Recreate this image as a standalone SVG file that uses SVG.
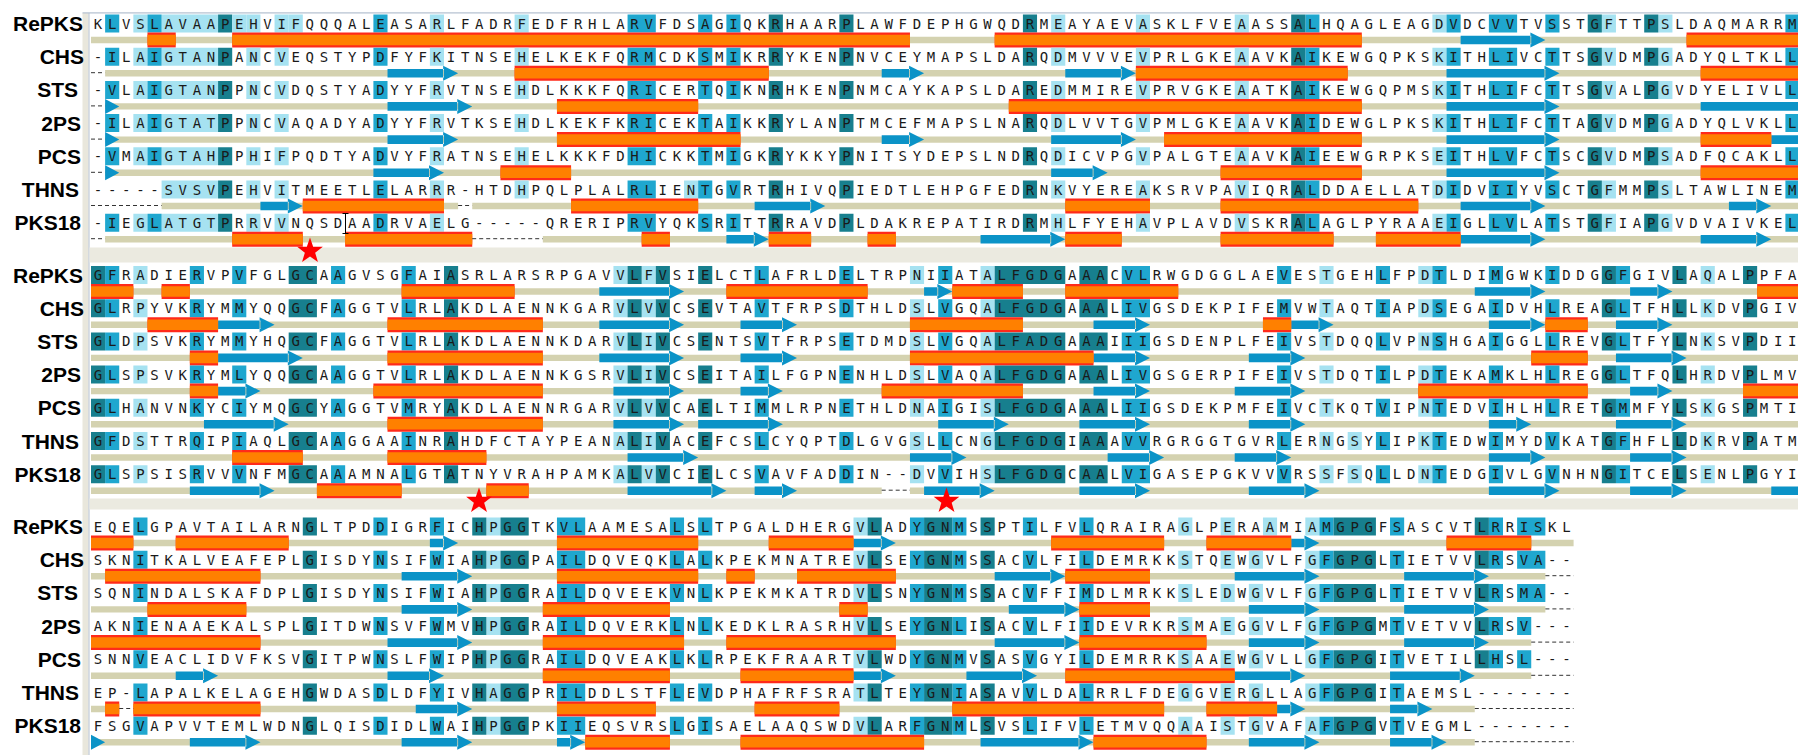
<svg xmlns="http://www.w3.org/2000/svg" width="1798" height="755" viewBox="0 0 1798 755">
<style>
.l{fill:#a6e2f1}.m{fill:#1fa7cf}.d{fill:#177f8e}
.t{fill:#d4d2b0}.e{fill:#0b93c7}
.seq{font-family:"DejaVu Sans Mono",monospace;font-size:14px;letter-spacing:5.69px;fill:#1a1a1a}
.lab{font-family:"Liberation Sans",Arial,sans-serif;font-weight:bold;font-size:21px;text-anchor:end;fill:#000}
.gap{stroke:#333;stroke-width:1;stroke-dasharray:4 3;fill:none}
.star{fill:#ff0000}
</style>
<defs>
<path id="b1m" d="M1-9h1v18h-1zM4-9h1v18h-1zM20-9h1v18h-1zM38-9h2v18h-2zM43-9h1v18h-1zM45-9h1v18h-1zM86-9h1v18h-1zM96-9h1v18h-1zM99-9h2v18h-2zM103-9h1v18h-1zM120-9h1v18h-1z"/>
<path id="b1l" d="M3-9h1v18h-1zM5-9h4v18h-4zM11-9h1v18h-1zM13-9h1v18h-1zM24-9h1v18h-1zM30-9h1v18h-1zM68-9h1v18h-1zM74-9h1v18h-1zM81-9h1v18h-1zM95-9h1v18h-1zM107-9h1v18h-1zM111-9h1v18h-1z"/>
<path id="b1d" d="M9-9h1v18h-1zM48-9h1v18h-1zM53-9h1v18h-1zM66-9h1v18h-1zM85-9h1v18h-1zM106-9h1v18h-1zM110-9h1v18h-1z"/>
<path id="b2d" d="M0-9h1v18h-1zM14-9h2v18h-2zM25-9h1v18h-1zM38-9h1v18h-1zM40-9h1v18h-1zM43-9h1v18h-1zM64-9h5v18h-5zM70-9h2v18h-2zM107-9h1v18h-1zM112-9h1v18h-1zM117-9h1v18h-1z"/>
<path id="b2m" d="M1-9h1v18h-1zM7-9h1v18h-1zM10-9h1v18h-1zM17-9h1v18h-1zM22-9h1v18h-1zM47-9h1v18h-1zM53-9h1v18h-1zM60-9h1v18h-1zM73-9h2v18h-2zM84-9h1v18h-1zM91-9h1v18h-1zM95-9h1v18h-1zM99-9h1v18h-1zM103-9h1v18h-1zM108-9h1v18h-1z"/>
<path id="b2l" d="M3-9h1v18h-1zM37-9h1v18h-1zM39-9h1v18h-1zM58-9h1v18h-1zM63-9h1v18h-1zM87-9h1v18h-1zM94-9h1v18h-1zM114-9h1v18h-1z"/>
<path id="b3d" d="M15-9h1v18h-1zM27-9h1v18h-1zM29-9h2v18h-2zM55-9h1v18h-1zM59-9h2v18h-2zM63-9h1v18h-1zM88-9h3v18h-3z"/>
<path id="b3m" d="M3-9h1v18h-1zM20-9h1v18h-1zM24-9h1v18h-1zM33-9h2v18h-2zM41-9h1v18h-1zM43-9h1v18h-1zM58-9h1v18h-1zM61-9h1v18h-1zM66-9h1v18h-1zM70-9h1v18h-1zM87-9h1v18h-1zM92-9h1v18h-1z"/>
<path id="b3l" d="M28-9h1v18h-1zM54-9h1v18h-1zM77-9h1v18h-1zM80-9h1v18h-1zM86-9h1v18h-1z"/>
<polygon id="star" points="0,-13.5 3.17,-4.37 12.84,-4.17 5.14,1.67 7.94,10.92 0,5.4 -7.94,10.92 -5.14,1.67 -12.84,-4.17 -3.17,-4.37"/>
</defs>

<g id="background">
<rect x="0" y="0" width="1798" height="755" fill="#ffffff"/>
<rect x="82.5" y="13" width="6" height="742" fill="#e9e7dc"/>
<rect x="88.5" y="13" width="1" height="742" fill="#b3bfcf"/>
<rect x="82.5" y="12.3" width="1716" height="1.2" fill="#b3bfcf"/>
<rect x="89.5" y="247.5" width="1709" height="15" fill="#ebeae0"/>
<rect x="89.5" y="498.5" width="1709" height="11" fill="#ebeae0"/>
</g>

<g id="block1" transform="translate(91 0) scale(14.12 1)">
<g id="b1-RePKS" transform="translate(0 23.5)">
<use href="#b1l" class="l"/><use href="#b1m" class="m"/><use href="#b1d" class="d"/>
<path class="l" d="M10-9h1v18h-1zM14-9h1v18h-1z"/>
<path class="t" d="M0 13.3h121v6.4h-121z"/>
<path class="e" d="M97 12.2H102v8.6H97zM103 16.5l-1.06-7.5v15z"/>
<g fill="#ff2a1a"><path id="h1a" d="M4 9h2v15h-2zM10 9h48v15h-48zM64 9h26v15h-26zM113 9h9v15h-9z"/></g>
<use href="#h1a" fill="#ff8000" transform="matrix(1 0 0 .7 0 4.95)"/>
</g>
<g id="b1-CHS" transform="translate(0 56.7)">
<use href="#b1l" class="l"/><use href="#b1m" class="m"/><use href="#b1d" class="d"/>
<path class="t" d="M1 13.3h120v6.4h-120z"/>
<path class="e" d="M21 12.2H25v8.6H21zM26 16.5l-1.06-7.5v15zM56 12.2H58v8.6H56zM59 16.5l-1.06-7.5v15zM69 12.2H73v8.6H69zM74 16.5l-1.06-7.5v15zM96 12.2H103v8.6H96zM104 16.5l-1.06-7.5v15z"/>
<g fill="#ff2a1a"><path id="h1b" d="M30 9h18v15h-18zM74 9h15v15h-15zM114 9h8v15h-8z"/></g>
<use href="#h1b" fill="#ff8000" transform="matrix(1 0 0 .7 0 4.95)"/>
</g>
<g id="b1-STS" transform="translate(0 89.9)">
<use href="#b1l" class="l"/><use href="#b1m" class="m"/><use href="#b1d" class="d"/>
<path class="t" d="M1 13.3h120v6.4h-120z"/>
<path class="e" d="M1 9l1 7.5-1 7.5zM21 12.2H26v8.6H21zM27 16.5l-1.06-7.5v15zM96 12.2H103v8.6H96zM104 16.5l-1.06-7.5v15zM114 12.2H122v8.6H114z"/>
<g fill="#ff2a1a"><path id="h1c" d="M33 9h10v15h-10zM65 9h25v15h-25z"/></g>
<use href="#h1c" fill="#ff8000" transform="matrix(1 0 0 .7 0 4.95)"/>
</g>
<g id="b1-2PS" transform="translate(0 123.1)">
<use href="#b1l" class="l"/><use href="#b1m" class="m"/><use href="#b1d" class="d"/>
<path class="t" d="M1 13.3h120v6.4h-120z"/>
<path class="e" d="M1 9l1 7.5-1 7.5zM21 12.2H25v8.6H21zM26 16.5l-1.06-7.5v15zM56 12.2H58v8.6H56zM59 16.5l-1.06-7.5v15zM68 12.2H73v8.6H68zM74 16.5l-1.06-7.5v15zM96 12.2H103v8.6H96zM104 16.5l-1.06-7.5v15zM119 12.2H122v8.6H119z"/>
<g fill="#ff2a1a"><path id="h1d" d="M33 9h13v15h-13zM76 9h14v15h-14zM114 9h5v15h-5z"/></g>
<use href="#h1d" fill="#ff8000" transform="matrix(1 0 0 .7 0 4.95)"/>
</g>
<g id="b1-PCS" transform="translate(0 156.3)">
<use href="#b1l" class="l"/><use href="#b1m" class="m"/><use href="#b1d" class="d"/>
<path class="t" d="M1 13.3h120v6.4h-120z"/>
<path class="e" d="M1 9l1 7.5-1 7.5zM20 12.2H24v8.6H20zM25 16.5l-1.06-7.5v15zM68 12.2H71v8.6H68zM72 16.5l-1.06-7.5v15zM96 12.2H103v8.6H96zM104 16.5l-1.06-7.5v15z"/>
<g fill="#ff2a1a"><path id="h1e" d="M29 9h5v15h-5zM80 9h10v15h-10zM114 9h8v15h-8z"/></g>
<use href="#h1e" fill="#ff8000" transform="matrix(1 0 0 .7 0 4.95)"/>
</g>
<g id="b1-THNS" transform="translate(0 189.5)">
<path class="l" d="M5-9h4v18h-4zM11-9h1v18h-1zM13-9h1v18h-1zM24-9h1v18h-1zM30-9h1v18h-1zM42-9h1v18h-1zM68-9h1v18h-1zM74-9h1v18h-1zM81-9h1v18h-1zM95-9h1v18h-1zM107-9h1v18h-1zM111-9h1v18h-1z"/>
<path class="m" d="M20-9h1v18h-1zM38-9h2v18h-2zM43-9h1v18h-1zM45-9h1v18h-1zM86-9h1v18h-1zM96-9h1v18h-1zM99-9h2v18h-2zM103-9h1v18h-1zM120-9h1v18h-1z"/>
<use href="#b1d" class="d"/>
<path class="t" d="M5 13.3h21v6.4h-21zM27 13.3h94v6.4h-94z"/>
<path class="e" d="M12 12.2H14v8.6H12zM15 16.5l-1.06-7.5v15zM47 12.2H51v8.6H47zM52 16.5l-1.06-7.5v15zM97 12.2H102v8.6H97zM103 16.5l-1.06-7.5v15zM116 12.2H118v8.6H116zM119 16.5l-1.06-7.5v15z"/>
<g fill="#ff2a1a"><path id="h1f" d="M15 9h10v15h-10zM34 9h9v15h-9zM69 9h6v15h-6zM80 9h14v15h-14z"/></g>
<use href="#h1f" fill="#ff8000" transform="matrix(1 0 0 .7 0 4.95)"/>
</g>
<g id="b1-PKS18" transform="translate(0 222.7)">
<path class="l" d="M3-9h1v18h-1zM5-9h4v18h-4zM11-9h1v18h-1zM13-9h1v18h-1zM24-9h1v18h-1zM68-9h1v18h-1zM74-9h1v18h-1zM81-9h1v18h-1zM95-9h1v18h-1zM107-9h1v18h-1zM111-9h1v18h-1z"/>
<use href="#b1m" class="m"/><use href="#b1d" class="d"/>
<path class="t" d="M1 13.3h26v6.4h-26zM32 13.3h89v6.4h-89z"/>
<path class="e" d="M45 12.2H47v8.6H45zM48 16.5l-1.06-7.5v15zM63 12.2H68v8.6H63zM69 16.5l-1.06-7.5v15zM97 12.2H102v8.6H97zM103 16.5l-1.06-7.5v15zM114 12.2H118v8.6H114zM119 16.5l-1.06-7.5v15z"/>
<g fill="#ff2a1a"><path id="h1g" d="M10 9h5v15h-5zM18 9h9v15h-9zM39 9h2v15h-2zM48 9h3v15h-3zM55 9h2v15h-2zM69 9h4v15h-4zM80 9h8v15h-8zM91 9h6v15h-6z"/></g>
<use href="#h1g" fill="#ff8000" transform="matrix(1 0 0 .7 0 4.95)"/>
</g>
</g>

<g id="block2" transform="translate(91 0) scale(14.12 1)">
<g id="b2-RePKS" transform="translate(0 275)">
<use href="#b2l" class="l"/><use href="#b2m" class="m"/><use href="#b2d" class="d"/>
<path class="t" d="M0 13.3h121v6.4h-121z"/>
<path class="e" d="M36 12.2H41v8.6H36zM42 16.5l-1.06-7.5v15zM59 12.2H60v8.6H59zM61 16.5l-1.06-7.5v15zM98 12.2H102v8.6H98zM103 16.5l-1.06-7.5v15zM109 12.2H111v8.6H109zM112 16.5l-1.06-7.5v15z"/>
<g fill="#ff2a1a"><path id="h2a" d="M0 9h3v15h-3zM5 9h2v15h-2zM22 9h8v15h-8zM45 9h10v15h-10zM61 9h5v15h-5zM69 9h8v15h-8zM118 9h4v15h-4z"/></g>
<use href="#h2a" fill="#ff8000" transform="matrix(1 0 0 .7 0 4.95)"/>
</g>
<g id="b2-CHS" transform="translate(0 308.2)">
<use href="#b2l" class="l"/><use href="#b2m" class="m"/><use href="#b2d" class="d"/>
<path class="t" d="M0 13.3h121v6.4h-121z"/>
<path class="e" d="M9 12.2H12v8.6H9zM13 16.5l-1.06-7.5v15zM36 12.2H41v8.6H36zM42 16.5l-1.06-7.5v15zM46 12.2H49v8.6H46zM50 16.5l-1.06-7.5v15zM71 12.2H74v8.6H71zM75 16.5l-1.06-7.5v15zM85 12.2H87v8.6H85zM88 16.5l-1.06-7.5v15zM99 12.2H102v8.6H99zM103 16.5l-1.06-7.5v15zM108 12.2H111v8.6H108zM112 16.5l-1.06-7.5v15z"/>
<g fill="#ff2a1a"><path id="h2b" d="M4 9h5v15h-5zM21 9h11v15h-11zM58 9h8v15h-8zM83 9h2v15h-2zM103 9h3v15h-3z"/></g>
<use href="#h2b" fill="#ff8000" transform="matrix(1 0 0 .7 0 4.95)"/>
</g>
<g id="b2-STS" transform="translate(0 341.4)">
<use href="#b2l" class="l"/><use href="#b2m" class="m"/><use href="#b2d" class="d"/>
<path class="t" d="M0 13.3h121v6.4h-121z"/>
<path class="e" d="M9 12.2H14v8.6H9zM15 16.5l-1.06-7.5v15zM36 12.2H41v8.6H36zM42 16.5l-1.06-7.5v15zM46 12.2H49v8.6H46zM50 16.5l-1.06-7.5v15zM71 12.2H74v8.6H71zM75 16.5l-1.06-7.5v15zM82 12.2H85v8.6H82zM86 16.5l-1.06-7.5v15zM108 12.2H112v8.6H108zM113 16.5l-1.06-7.5v15z"/>
<g fill="#ff2a1a"><path id="h2c" d="M7 9h2v15h-2zM21 9h11v15h-11zM58 9h13v15h-13zM102 9h4v15h-4z"/></g>
<use href="#h2c" fill="#ff8000" transform="matrix(1 0 0 .7 0 4.95)"/>
</g>
<g id="b2-2PS" transform="translate(0 374.6)">
<use href="#b2l" class="l"/><use href="#b2m" class="m"/><use href="#b2d" class="d"/>
<path class="t" d="M0 13.3h121v6.4h-121z"/>
<path class="e" d="M9 12.2H11v8.6H9zM12 16.5l-1.06-7.5v15zM37 12.2H41v8.6H37zM42 16.5l-1.06-7.5v15zM46 12.2H48v8.6H46zM49 16.5l-1.06-7.5v15zM71 12.2H74v8.6H71zM75 16.5l-1.06-7.5v15zM81 12.2H85v8.6H81zM86 16.5l-1.06-7.5v15zM109 12.2H111v8.6H109zM112 16.5l-1.06-7.5v15z"/>
<g fill="#ff2a1a"><path id="h2d" d="M7 9h2v15h-2zM20 9h12v15h-12zM56 9h10v15h-10zM94 9h12v15h-12zM117 9h5v15h-5z"/></g>
<use href="#h2d" fill="#ff8000" transform="matrix(1 0 0 .7 0 4.95)"/>
</g>
<g id="b2-PCS" transform="translate(0 407.8)">
<use href="#b2l" class="l"/><use href="#b2m" class="m"/><use href="#b2d" class="d"/>
<path class="t" d="M0 13.3h121v6.4h-121z"/>
<path class="e" d="M8 12.2H13v8.6H8zM14 16.5l-1.06-7.5v15zM37 12.2H41v8.6H37zM42 16.5l-1.06-7.5v15zM43 12.2H48v8.6H43zM49 16.5l-1.06-7.5v15zM60 12.2H64v8.6H60zM65 16.5l-1.06-7.5v15zM70 12.2H74v8.6H70zM75 16.5l-1.06-7.5v15zM82 12.2H85v8.6H82zM86 16.5l-1.06-7.5v15zM99 12.2H101v8.6H99zM102 16.5l-1.06-7.5v15zM108 12.2H112v8.6H108zM113 16.5l-1.06-7.5v15z"/>
<g fill="#ff2a1a"><path id="h2e" d="M21 9h11v15h-11z"/></g>
<use href="#h2e" fill="#ff8000" transform="matrix(1 0 0 .7 0 4.95)"/>
</g>
<g id="b2-THNS" transform="translate(0 441)">
<use href="#b2l" class="l"/><use href="#b2m" class="m"/><use href="#b2d" class="d"/>
<path class="l" d="M89-9h1v18h-1z"/>
<path class="t" d="M0 13.3h121v6.4h-121z"/>
<path class="e" d="M38 12.2H42v8.6H38zM43 16.5l-1.06-7.5v15zM58 12.2H61v8.6H58zM62 16.5l-1.06-7.5v15zM72 12.2H75v8.6H72zM76 16.5l-1.06-7.5v15zM81 12.2H84v8.6H81zM85 16.5l-1.06-7.5v15zM99 12.2H102v8.6H99zM103 16.5l-1.06-7.5v15zM109 12.2H112v8.6H109zM113 16.5l-1.06-7.5v15z"/>
<g fill="#ff2a1a"><path id="h2f" d="M10 9h5v15h-5zM21 9h7v15h-7z"/></g>
<use href="#h2f" fill="#ff8000" transform="matrix(1 0 0 .7 0 4.95)"/>
</g>
<g id="b2-PKS18" transform="translate(0 474.2)">
<use href="#b2l" class="l"/><use href="#b2m" class="m"/><use href="#b2d" class="d"/>
<path class="l" d="M89-9h1v18h-1z"/>
<path class="t" d="M0 13.3h56v6.4h-56zM58 13.3h63v6.4h-63z"/>
<path class="e" d="M7 12.2H12v8.6H7zM13 16.5l-1.06-7.5v15zM38 12.2H44v8.6H38zM45 16.5l-1.06-7.5v15zM47 12.2H49v8.6H47zM50 16.5l-1.06-7.5v15zM59 12.2H63v8.6H59zM64 16.5l-1.06-7.5v15zM70 12.2H74v8.6H70zM75 16.5l-1.06-7.5v15zM82 12.2H86v8.6H82zM87 16.5l-1.06-7.5v15zM99 12.2H103v8.6H99zM104 16.5l-1.06-7.5v15zM109 12.2H112v8.6H109zM113 16.5l-1.06-7.5v15zM119 12.2H122v8.6H119z"/>
<g fill="#ff2a1a"><path id="h2g" d="M16 9h6v15h-6zM28 9h3v15h-3z"/></g>
<use href="#h2g" fill="#ff8000" transform="matrix(1 0 0 .7 0 4.95)"/>
</g>
</g>

<g id="block3" transform="translate(91 0) scale(14.12 1)">
<g id="b3-RePKS" transform="translate(0 526.5)">
<use href="#b3l" class="l"/><use href="#b3m" class="m"/><use href="#b3d" class="d"/>
<path class="l" d="M83-9h1v18h-1z"/>
<path class="m" d="M99-9h1v18h-1zM101-9h2v18h-2z"/>
<path class="d" d="M98-9h1v18h-1z"/>
<path class="t" d="M0 13.3h105v6.4h-105z"/>
<path class="e" d="M24 12.2H25v8.6H24zM26 16.5l-1.06-7.5v15zM54 12.2H56v8.6H54zM57 16.5l-1.06-7.5v15zM85 12.2H86v8.6H85zM87 16.5l-1.06-7.5v15z"/>
<g fill="#ff2a1a"><path id="h3a" d="M0 9h3v15h-3zM6 9h8v15h-8zM33 9h10v15h-10zM48 9h6v15h-6zM68 9h8v15h-8zM79 9h6v15h-6zM96 9h6v15h-6z"/></g>
<use href="#h3a" fill="#ff8000" transform="matrix(1 0 0 .7 0 4.95)"/>
</g>
<g id="b3-CHS" transform="translate(0 559.7)">
<use href="#b3l" class="l"/><use href="#b3m" class="m"/><use href="#b3d" class="d"/>
<path class="l" d="M82-9h1v18h-1z"/>
<path class="m" d="M99-9h1v18h-1zM101-9h2v18h-2z"/>
<path class="d" d="M98-9h1v18h-1z"/>
<path class="t" d="M0 13.3h103v6.4h-103z"/>
<path class="e" d="M22 12.2H26v8.6H22zM27 16.5l-1.06-7.5v15zM64 12.2H68v8.6H64zM69 16.5l-1.06-7.5v15zM81 12.2H86v8.6H81zM87 16.5l-1.06-7.5v15zM93 12.2H98v8.6H93zM99 16.5l-1.06-7.5v15z"/>
<g fill="#ff2a1a"><path id="h3b" d="M1 9h11v15h-11zM33 9h10v15h-10zM45 9h2v15h-2zM50 9h7v15h-7zM69 9h6v15h-6z"/></g>
<use href="#h3b" fill="#ff8000" transform="matrix(1 0 0 .7 0 4.95)"/>
</g>
<g id="b3-STS" transform="translate(0 592.9)">
<use href="#b3l" class="l"/><use href="#b3m" class="m"/><use href="#b3d" class="d"/>
<path class="l" d="M82-9h1v18h-1z"/>
<path class="m" d="M99-9h1v18h-1zM101-9h2v18h-2z"/>
<path class="d" d="M98-9h1v18h-1z"/>
<path class="t" d="M0 13.3h103v6.4h-103z"/>
<path class="e" d="M22 12.2H26v8.6H22zM27 16.5l-1.06-7.5v15zM65 12.2H69v8.6H65zM70 16.5l-1.06-7.5v15zM82 12.2H86v8.6H82zM87 16.5l-1.06-7.5v15zM93 12.2H98v8.6H93zM99 16.5l-1.06-7.5v15z"/>
<g fill="#ff2a1a"><path id="h3c" d="M4 9h7v15h-7zM32 9h9v15h-9zM53 9h2v15h-2zM70 9h5v15h-5z"/></g>
<use href="#h3c" fill="#ff8000" transform="matrix(1 0 0 .7 0 4.95)"/>
</g>
<g id="b3-2PS" transform="translate(0 626.1)">
<use href="#b3l" class="l"/><use href="#b3m" class="m"/><use href="#b3d" class="d"/>
<path class="l" d="M82-9h1v18h-1z"/>
<path class="m" d="M99-9h1v18h-1zM101-9h1v18h-1z"/>
<path class="d" d="M98-9h1v18h-1z"/>
<path class="t" d="M0 13.3h102v6.4h-102z"/>
<path class="e" d="M21 12.2H26v8.6H21zM27 16.5l-1.06-7.5v15zM64 12.2H69v8.6H64zM70 16.5l-1.06-7.5v15zM82 12.2H86v8.6H82zM87 16.5l-1.06-7.5v15zM93 12.2H98v8.6H93zM99 16.5l-1.06-7.5v15z"/>
<g fill="#ff2a1a"><path id="h3d" d="M0 9h12v15h-12zM32 9h10v15h-10zM45 9h12v15h-12zM70 9h9v15h-9z"/></g>
<use href="#h3d" fill="#ff8000" transform="matrix(1 0 0 .7 0 4.95)"/>
</g>
<g id="b3-PCS" transform="translate(0 659.3)">
<use href="#b3l" class="l"/><use href="#b3m" class="m"/><use href="#b3d" class="d"/>
<path class="l" d="M82-9h1v18h-1z"/>
<path class="m" d="M99-9h1v18h-1zM101-9h1v18h-1z"/>
<path class="d" d="M98-9h1v18h-1z"/>
<path class="t" d="M0 13.3h102v6.4h-102z"/>
<path class="e" d="M6 12.2H8v8.6H6zM9 16.5l-1.06-7.5v15zM21 12.2H24v8.6H21zM25 16.5l-1.06-7.5v15zM54 12.2H56v8.6H54zM57 16.5l-1.06-7.5v15zM62 12.2H66v8.6H62zM67 16.5l-1.06-7.5v15zM81 12.2H85v8.6H81zM86 16.5l-1.06-7.5v15zM92 12.2H97v8.6H92zM98 16.5l-1.06-7.5v15z"/>
<g fill="#ff2a1a"><path id="h3e" d="M32 9h9v15h-9zM46 9h8v15h-8zM69 9h12v15h-12z"/></g>
<use href="#h3e" fill="#ff8000" transform="matrix(1 0 0 .7 0 4.95)"/>
</g>
<g id="b3-THNS" transform="translate(0 692.5)">
<use href="#b3l" class="l"/><use href="#b3m" class="m"/><use href="#b3d" class="d"/>
<path class="l" d="M82-9h1v18h-1z"/>
<path class="t" d="M0 13.3h2v6.4h-2zM3 13.3h95v6.4h-95z"/>
<path class="e" d="M23 12.2H26v8.6H23zM27 16.5l-1.06-7.5v15zM84 12.2H85v8.6H84zM86 16.5l-1.06-7.5v15zM92 12.2H94v8.6H92zM95 16.5l-1.06-7.5v15z"/>
<g fill="#ff2a1a"><path id="h3f" d="M1 9h1v15h-1zM3 9h9v15h-9zM33 9h7v15h-7zM47 9h6v15h-6zM61 9h15v15h-15zM79 9h5v15h-5z"/></g>
<use href="#h3f" fill="#ff8000" transform="matrix(1 0 0 .7 0 4.95)"/>
</g>
<g id="b3-PKS18" transform="translate(0 725.7)">
<use href="#b3l" class="l"/><use href="#b3m" class="m"/><use href="#b3d" class="d"/>
<path class="l" d="M82-9h1v18h-1z"/>
<path class="t" d="M0 13.3h98v6.4h-98z"/>
<path class="e" d="M0 9l1 7.5-1 7.5zM7 12.2H11v8.6H7zM12 16.5l-1.06-7.5v15zM22 12.2H26v8.6H22zM27 16.5l-1.06-7.5v15zM33 12.2H34v8.6H33zM35 16.5l-1.06-7.5v15zM63 12.2H70v8.6H63zM71 16.5l-1.06-7.5v15zM82 12.2H86v8.6H82zM87 16.5l-1.06-7.5v15zM92 12.2H95v8.6H92zM96 16.5l-1.06-7.5v15z"/>
<g fill="#ff2a1a"><path id="h3g" d="M35 9h6v15h-6zM46 9h13v15h-13zM71 9h8v15h-8z"/></g>
<use href="#h3g" fill="#ff8000" transform="matrix(1 0 0 .7 0 4.95)"/>
</g>
</g>

<g id="gaps">
<path class="gap" d="M91 72.7H105.1M91 105.9H105.1M91 139.1H105.1M91 172.3H105.1M91 205.5H161.6M458.1 205.5H472.2M91 238.7H105.1M472.2 238.7H542.8M881.7 490.2H910M1545.4 575.7H1573.6M1545.4 608.9H1573.6M1531.2 642.1H1573.6M1531.2 675.3H1573.6M119.2 708.5H133.4M1474.8 708.5H1573.6M1474.8 741.7H1573.6"/>
</g>

<g id="sequences">
<text class="seq" x="93.85" y="28.5">KLVSLAVAAPEHVIFQQQALEASARLFADRFEDFRHLARVFDSAGIQKRHAARPLAWFDEPHGWQDRMEAYAEVASKLFVEAASSALHQAGLEAGDVDCVVTVSSTGFTTPSLDAQMARRM</text>
<text class="seq" x="93.85" y="61.7">-ILAIGTANPANCVEQSTYPDFYFKITNSEHELKEKFQRMCDKSMIKRRYKENPNVCEYMAPSLDARQDMVVVEVPRLGKEAAVKAIKEWGQPKSKITHLIVCTTSGVDMPGADYQLTKLL</text>
<text class="seq" x="93.85" y="94.9">-VLAIGTANPPNCVDQSTYADYYFRVTNSEHDLKKKFQRICERTQIKNRHKENPNMCAYKAPSLDAREDMMIREVPRVGKEAATKAIKEWGQPMSKITHLIFCTTSGVALPGVDYELIVLL</text>
<text class="seq" x="93.85" y="128.1">-ILAIGTATPPNCVAQADYADYYFRVTKSEHDLKEKFKRICEKTAIKKRYLANPTMCEFMAPSLNARQDLVVTGVPMLGKEAAVKAIDEWGLPKSKITHLIFCTTAGVDMPGADYQLVKLL</text>
<text class="seq" x="93.85" y="161.3">-VMAIGTAHPPHIFPQDTYADVYFRATNSEHELKKKFDHICKKTMIGKRYKKYPNITSYDEPSLNDRQDICVPGVPALGTEAAVKAIEEWGRPKSEITHLVFCTSCGVDMPSADFQCAKLL</text>
<text class="seq" x="93.85" y="194.5">-----SVSVPEHVITMEETLELARRR-HTDHPQLPLALRLIENTGVRTRHIVQPIEDTLEHPGFEDRNKVYEREAKSRVPAVIQRALDDAELLATDIDVIIYVSCTGFMMPSLTAWLINEM</text>
<text class="seq" x="93.85" y="227.7">-IEGLATGTPRRVVNQSDAADRVAELG-----QRERIPRVYQKSRITTRRAVDPLDAKREPATIRDRMHLFYEHAVPLAVDVSKRALAGLPYRAAEIGLLVLATSTGFIAPGVDVAIVKEL</text>
<text class="seq" x="93.85" y="280">GFRADIERVPVFGLGCAAGVSGFAIASRLARSRPGAVVLFVSIELCTLAFRLDELTRPNIIATALFGDGAAACVLRWGDGGLAEVESTGEHLFPDTLDIMGWKIDDGGFGIVLAQALPPFA</text>
<text class="seq" x="93.85" y="313.2">GLRPYVKRYMMYQQGCFAGGTVLRLAKDLAENNKGARVLVVCSEVTAVTFRPSDTHLDSLVGQALFGDGAAALIVGSDEKPIFEMVWTAQTIAPDSEGAIDVHLREAGLTFHLLKDVPGIV</text>
<text class="seq" x="93.85" y="346.4">GLDPSVKRYMMYHQGCFAGGTVLRLAKDLAENNKDARVLIVCSENTSVTFRPSETDMDSLVGQALFADGAAAIIIGSDENPLFEIVSTDQQLVPNSHGAIGGLLREVGLTFYLNKSVPDII</text>
<text class="seq" x="93.85" y="379.6">GLSPSVKRYMLYQQGCAAGGTVLRLAKDLAENNKGSRVLIVCSEITAILFGPNENHLDSLVAQALFGDGAAALIVGSGERPIFEIVSTDQTILPDTEKAMKLHLREGGLTFQLHRDVPLMV</text>
<text class="seq" x="93.85" y="412.8">GLHANVNKYCIYMQGCYAGGTVMRYAKDLAENNRGARVLVVCAELTIMMLRPNETHLDNAIGISLFGDGAAALIIGSDEKPMFEIVCTKQTVIPNTEDVIHLHLRETGMMFYLSKGSPMTI</text>
<text class="seq" x="93.85" y="446">GFDSTTRQIPIAQLGCAAGGAAINRAHDFCTAYPEANALIVACEFCSLCYQPTDLGVGSLLCNGLFGDGIAAAVVRGRGGTGVRLERNGSYLIPKTEDWIMYDVKATGFHFLLDKRVPATM</text>
<text class="seq" x="93.85" y="479.2">GLSPSISRVVVNFMGCAAAMNALGTATNYVRAHPAMKALVVCIELCSVAVFADDIN--DVVIHSLFGDGCAALVIGASEPGKVVVRSSFSQLLDNTEDGIVLGVNHNGITCELSENLPGYI</text>
<text class="seq" x="93.85" y="531.5">EQELGPAVTAILARNGLTPDDIGRFICHPGGTKVLAAMESALSLTPGALDHERGVLADYGNMSSPTILFVLQRAIRAGLPERAAMIAMGPGFSASCVTLRRISKL</text>
<text class="seq" x="93.85" y="564.7">SKNITKALVEAFEPLGISDYNSIFWIAHPGGPAILDQVEQKLALKPEKMNATREVLSEYGNMSSACVLFILDEMRKKSTQEWGVLFGFGPGLTIETVVLRSVA--</text>
<text class="seq" x="93.85" y="597.9">SQNINDALSKAFDPLGISDYNSIFWIAHPGGRAILDQVEEKVNLKPEKMKATRDVLSNYGNMSSACVFFIMDLMRKKSLEDWGVLFGFGPGLTIETVVLRSMA--</text>
<text class="seq" x="93.85" y="631.1">AKNIENAAEKALSPLGITDWNSVFWMVHPGGRAILDQVERKLNLKEDKLRASRHVLSEYGNLISACVLFIIDEVRKRSMAEGGVLFGFGPGMTVETVVLRSV---</text>
<text class="seq" x="93.85" y="664.3">SNNVEACLIDVFKSVGITPWNSLFWIPHPGGRAILDQVEAKLKLRPEKFRAARTVLWDYGNMVSASVGYILDEMRRKSAAEWGVLLGFGPGITVETILLHSL---</text>
<text class="seq" x="93.85" y="697.5">EP-LAPALKELAGEHGWDASDLDFYIVHAGGPRILDDLSTFLEVDPHAFRFSRATLTEYGNIASAVVLDALRRLFDEGGVERGLLAGFGPGITAEMSL-------</text>
<text class="seq" x="93.85" y="730.7">FSGVAPVVTEMLWDNGLQISDIDLWAIHPGGPKIIEQSVRSLGISAELAAQSWDVLARFGNMLSVSLIFVLETMVQQAAISTGVAFAFGPGVTVEGML-------</text>
</g>

<g id="labels">
<text class="lab" x="83" y="31">RePKS</text>
<text class="lab" x="84" y="64.2">CHS</text>
<text class="lab" x="78" y="97.4">STS</text>
<text class="lab" x="81" y="130.6">2PS</text>
<text class="lab" x="81" y="163.8">PCS</text>
<text class="lab" x="79" y="197">THNS</text>
<text class="lab" x="81" y="230.2">PKS18</text>
<text class="lab" x="83" y="282.5">RePKS</text>
<text class="lab" x="84" y="315.7">CHS</text>
<text class="lab" x="78" y="348.9">STS</text>
<text class="lab" x="81" y="382.1">2PS</text>
<text class="lab" x="81" y="415.3">PCS</text>
<text class="lab" x="79" y="448.5">THNS</text>
<text class="lab" x="81" y="481.7">PKS18</text>
<text class="lab" x="83" y="534">RePKS</text>
<text class="lab" x="84" y="567.2">CHS</text>
<text class="lab" x="78" y="600.4">STS</text>
<text class="lab" x="81" y="633.6">2PS</text>
<text class="lab" x="81" y="666.8">PCS</text>
<text class="lab" x="79" y="700">THNS</text>
<text class="lab" x="81" y="733.2">PKS18</text>
</g>

<g id="cursor">
<path d="M345.5 214V233M342.5 213.5H348.5M342.5 233.5H348.5" stroke="#000" stroke-width="1" fill="none"/>
</g>

<g id="stars">
<use href="#star" class="star" x="310" y="251"/>
<use href="#star" class="star" x="479" y="501"/>
<use href="#star" class="star" x="946.5" y="501"/>
</g>
</svg>
